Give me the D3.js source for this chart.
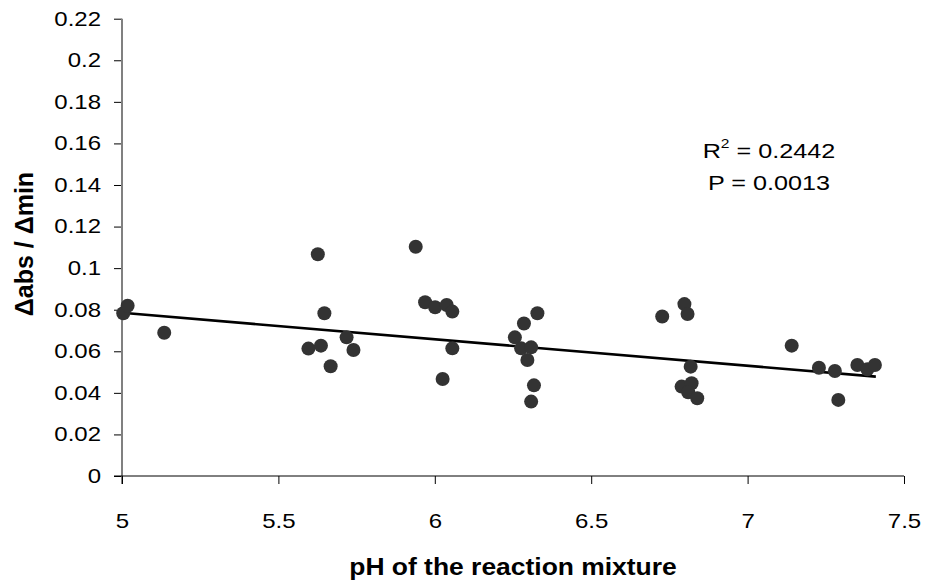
<!DOCTYPE html>
<html><head><meta charset="utf-8">
<script src="https://cdn.jsdelivr.net/npm/d3@7"></script>
<style>body{margin:0;background:#fff;} svg{display:block;font-family:"Liberation Sans",Arial,sans-serif;}</style>
</head><body>
<svg id="c" width="926" height="585"></svg>
<script>
const phValues = [5.004,5.018,5.135,5.626,5.647,5.596,5.636,5.718,5.740,5.667,
  5.939,5.969,6.001,6.038,6.056,6.056,6.025,6.285,6.328,6.256,6.276,6.308,6.296,6.317,6.308,
  6.727,6.798,6.808,6.818,6.789,6.821,6.810,6.839,7.141,7.228,7.279,7.290,7.351,7.383,7.407];
const rateValues = [0.0783,0.0819,0.0689,0.1067,0.0783,0.0613,0.0627,0.0667,0.0606,0.0528,
  0.1103,0.0836,0.0812,0.0823,0.0791,0.0614,0.0467,0.0734,0.0783,0.0667,0.0614,0.0619,0.0558,0.0436,0.0358,
  0.0767,0.0827,0.0779,0.0526,0.0430,0.0446,0.0403,0.0374,0.0627,0.0521,0.0505,0.0366,0.0534,0.0513,0.0534];
const trendX = [5.0, 7.41];
const trendY = [0.0785, 0.0478];
const xTicks = [5, 5.5, 6, 6.5, 7, 7.5];
const yTicks = [0,0.02,0.04,0.06,0.08,0.1,0.12,0.14,0.16,0.18,0.2,0.22];
const annotations = ["R", "2", " = 0.2442", "P = 0.0013"];

const SX = 1.2; // horizontal stretch of the reference's text
const svg = d3.select("#c");
const x = d3.scaleLinear().domain([5, 7.5]).range([122, 904]);
const y = d3.scaleLinear().domain([0, 0.22]).range([476, 18.7]);
const FONT = "Liberation Sans, Arial, sans-serif";

// y axis
const ya = svg.append("g").attr("transform","translate(122,0)")
  .call(d3.axisLeft(y).tickValues(yTicks).tickSize(8).tickPadding(13).tickFormat(d => String(+d.toFixed(2))));
ya.select(".domain").remove();
ya.selectAll(".tick line").attr("stroke","#000");
ya.selectAll("text").attr("font-size",20).attr("fill","#000").attr("font-family",FONT)
  .attr("x", -21/SX).attr("transform", `scale(${SX},1)`);
svg.append("line").attr("x1",122).attr("x2",122).attr("y1",y(0.22)).attr("y2",484)
  .attr("stroke","#808080").attr("stroke-width",2);

// x axis
const xa = svg.append("g").attr("transform","translate(0,476)")
  .call(d3.axisBottom(x).tickValues(xTicks).tickSize(8).tickPadding(30).tickFormat(d => String(d)));
xa.select(".domain").attr("d", `M${x(5)-8},0H${x(7.5)}`).attr("stroke","#000");
xa.selectAll(".tick line").attr("stroke","#000");
xa.selectAll("text").attr("font-size",20).attr("fill","#000").attr("font-family",FONT)
  .attr("transform", `scale(${SX},1)`);

// trend line
svg.append("path")
  .attr("d", d3.line().x(d=>x(d[0])).y(d=>y(d[1]))(trendX.map((v,i)=>[v,trendY[i]])))
  .attr("stroke","#000").attr("stroke-width",2.6).attr("fill","none");

// points
svg.append("g").selectAll("circle").data(phValues.map((v,i)=>[v,rateValues[i]])).join("circle")
  .attr("cx",d=>x(d[0])).attr("cy",d=>y(d[1])).attr("r",7).attr("fill","#333");

// annotation
const g1 = svg.append("g").attr("transform",`translate(769,158) scale(1.2,1)`);
const t1 = g1.append("text").attr("text-anchor","middle").attr("font-size",21).attr("fill","#000");
t1.append("tspan").text(annotations[0]);
t1.append("tspan").text(annotations[1]).attr("font-size",13).attr("dy",-10);
t1.append("tspan").text(annotations[2]).attr("dy",10);
svg.append("g").attr("transform",`translate(769,190) scale(1.2,1)`)
  .append("text").attr("text-anchor","middle").attr("font-size",21).attr("fill","#000").text(annotations[3]);

// axis titles
svg.append("g").attr("transform","translate(513,575) scale(1.15,1)")
  .append("text").attr("text-anchor","middle").attr("font-size",23).attr("font-weight","bold").text("pH of the reaction mixture");
svg.append("text").attr("transform","translate(33,244) rotate(-90)").attr("text-anchor","middle").attr("font-size",25).attr("font-weight","bold").text("\u0394abs / \u0394min");
</script>
</body></html>
